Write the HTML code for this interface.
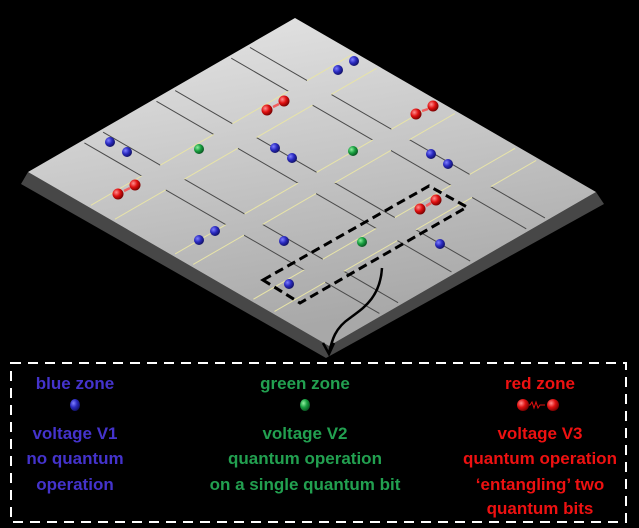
<!DOCTYPE html>
<html><head><meta charset="utf-8"><style>
html,body{margin:0;padding:0;background:#000;width:639px;height:528px;overflow:hidden}
.t{font-family:"Liberation Sans",sans-serif;font-weight:bold;font-size:17px}
</style></head><body>
<svg width="639" height="528" viewBox="0 0 639 528" xmlns="http://www.w3.org/2000/svg">
<defs>
<linearGradient id="g" x1="0" y1="0" x2="0.3" y2="1">
<stop offset="0" stop-color="#e8e8e8"/><stop offset="1" stop-color="#a8a8a8"/></linearGradient>
<radialGradient id="b" cx="0.35" cy="0.35" r="0.7"><stop offset="0" stop-color="#8080ff"/><stop offset="0.5" stop-color="#2a2ac0"/><stop offset="1" stop-color="#101060"/></radialGradient>
<radialGradient id="gr" cx="0.35" cy="0.35" r="0.7"><stop offset="0" stop-color="#90f0a0"/><stop offset="0.5" stop-color="#18a040"/><stop offset="1" stop-color="#0a5020"/></radialGradient>
<radialGradient id="r" cx="0.35" cy="0.35" r="0.7"><stop offset="0" stop-color="#ff9090"/><stop offset="0.5" stop-color="#e01010"/><stop offset="1" stop-color="#700000"/></radialGradient>
</defs>
<polygon points="28,172 21,184 326,358 604,204 596,192 329,346" fill="#474747"/>
<polygon points="295,18 596,192 329,346 28,172" fill="url(#g)"/>
<g transform="matrix(3.01,1.74,-2.67,1.54,295,18)" fill="none">
<g stroke="#4a4a4a" stroke-width="1">
<path vector-effect="non-scaling-stroke" d="
M1 18H20M28 18H48M54 18H74M81 18H99
M1 25H20M28 25H48M54 25H74M81 25H99
M1 46H20M28 46H48M54 46H74M81 46H99
M1 53H20M28 53H48M54 53H74M81 53H99
M1 73H20M28 73H48M54 73H74M81 73H99
M1 80H20M28 80H48M54 80H74M81 80H99"/>
</g>
<g stroke="#e8e4a8" stroke-width="1">
<path vector-effect="non-scaling-stroke" d="
M20 1V18M28 1V18M48 1V18M54 1V18M74 1V18M81 1V18
M20 25V46M28 25V46M48 25V46M54 25V46M74 25V46M81 25V46
M20 53V73M28 53V73M48 53V73M54 53V73M74 53V73M81 53V73
M20 80V99M28 80V99M48 80V99M54 80V99M74 80V99M81 80V99"/>
</g>
</g>
<polygon points="263,280 429,186 467,207 300,303" fill="none" stroke="#000" stroke-width="3" stroke-dasharray="9,5"/>
<path d="M382,268 C380,300 360,310 350,318 C335,328 332,340 329,353" fill="none" stroke="#000" stroke-width="2.5"/>
<path d="M323,343 L329,354 L334,343" fill="none" stroke="#000" stroke-width="2.5"/>
<g fill="url(#b)">
<circle cx="338" cy="70" r="5"/><circle cx="354" cy="61" r="5"/>
<circle cx="110" cy="142" r="5"/><circle cx="127" cy="152" r="5"/>
<circle cx="275" cy="148" r="5"/><circle cx="292" cy="158" r="5"/>
<circle cx="431" cy="154" r="5"/><circle cx="448" cy="164" r="5"/>
<circle cx="199" cy="240" r="5"/><circle cx="215" cy="231" r="5"/>
<circle cx="284" cy="241" r="5"/><circle cx="440" cy="244" r="5"/><circle cx="289" cy="284" r="5"/>
</g>
<g fill="url(#gr)"><circle cx="199" cy="149" r="5"/><circle cx="353" cy="151" r="5"/><circle cx="362" cy="242" r="5"/></g>
<g stroke="#f06060" stroke-width="2.5"><path d="M273,107L279,104M422,111L428,109M124,191L130,188M426,206L431,203"/></g>
<g fill="url(#r)">
<circle cx="267" cy="110" r="5.5"/><circle cx="284" cy="101" r="5.5"/>
<circle cx="416" cy="114" r="5.5"/><circle cx="433" cy="106" r="5.5"/>
<circle cx="118" cy="194" r="5.5"/><circle cx="135" cy="185" r="5.5"/>
<circle cx="420" cy="209" r="5.5"/><circle cx="436" cy="200" r="5.5"/>
</g>
<rect x="11" y="363" width="615" height="159" fill="none" stroke="#fff" stroke-width="2" stroke-dasharray="10,7"/>
<g class="t" text-anchor="middle">
<g fill="#4433cc">
<text x="75" y="389">blue zone</text>
<text x="75" y="439">voltage V1</text>
<text x="75" y="464">no quantum</text>
<text x="75" y="490">operation</text>
</g>
<g fill="#22a050">
<text x="305" y="389">green zone</text>
<text x="305" y="439">voltage V2</text>
<text x="305" y="464">quantum operation</text>
<text x="305" y="490">on a single quantum bit</text>
</g>
<g fill="#ee1111">
<text x="540" y="389">red zone</text>
<text x="540" y="439">voltage V3</text>
<text x="540" y="464">quantum operation</text>
<text x="540" y="490">‘entangling’ two</text>
<text x="540" y="514">quantum bits</text>
</g>
</g>
<ellipse cx="75" cy="405" rx="5" ry="6" fill="url(#b)"/>
<ellipse cx="305" cy="405" rx="5" ry="6" fill="url(#gr)"/>
<path d="M525,405 h5 l2,-3 l2,6 l2,-6 l2,6 l2,-3 h5" fill="none" stroke="#e01010" stroke-width="1"/>
<ellipse cx="523" cy="405" rx="6" ry="6" fill="url(#r)"/>
<ellipse cx="553" cy="405" rx="6" ry="6" fill="url(#r)"/>
</svg>
</body></html>
